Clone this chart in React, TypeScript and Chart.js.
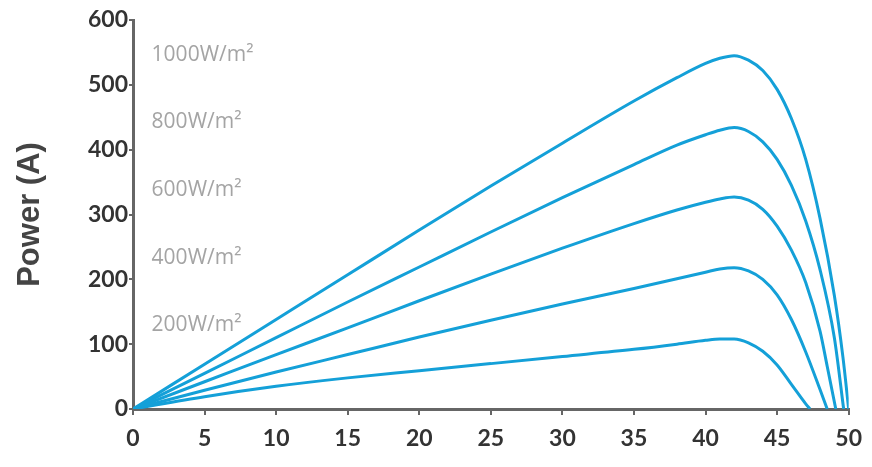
import React, { useEffect, useRef } from "react";
import { Chart, registerables } from "chart.js";

Chart.register(...registerables);

// Voltage (x) and power (y) for each irradiance curve
const v1000 = [0, 5, 10, 15, 20, 25, 30, 35, 38, 40, 41, 42, 43, 44, 45, 46, 47, 48, 49, 49.6, 50];
const p1000 = [0, 69, 138, 207, 276, 344, 410, 475, 511, 533, 541, 545, 538, 522, 493, 448, 385, 294, 175, 80, 0];

const v800 = [0, 5, 10, 15, 20, 25, 30, 35, 38, 40, 41, 42, 43, 44, 45, 46, 47, 48, 49, 49.65];
const p800 = [0, 55, 110, 165, 219, 273, 326, 377, 407, 423, 430, 434, 428, 412, 385, 345, 290, 215, 110, 0];

const v600 = [0, 5, 10, 15, 20, 25, 30, 35, 38, 40, 41, 42, 43, 44, 45, 46, 47, 48, 48.5, 49.1];
const p600 = [0, 42, 84, 125, 167, 208, 248, 286, 307, 319, 324, 327, 322, 308, 282, 245, 195, 120, 66, 0];

const v400 = [0, 5, 10, 15, 20, 25, 30, 35, 38, 40, 41, 42, 43, 44, 45, 46, 47, 48, 48.5];
const p400 = [0, 29, 57, 84, 111, 137, 162, 186, 201, 211, 216, 218, 213, 200, 176, 138, 88, 30, 0];

const v200 = [0, 5, 10, 15, 20, 25, 30, 35, 38, 40, 41, 42, 43, 44, 45, 46, 47, 47.3];
const p200 = [0, 19, 35, 48, 59, 70, 81, 92, 100, 106, 108, 108, 102, 89, 68, 38, 8, 0];

const curveLabels = ["1000W/m²", "800W/m²", "600W/m²", "400W/m²", "200W/m²"];
const curveLabelX = [1.3, 1.3, 1.3, 1.3, 1.3];
const curveLabelY = [546, 443, 338, 233, 130];

const xTicks = [0, 5, 10, 15, 20, 25, 30, 35, 40, 45, 50];
const yTicks = [0, 100, 200, 300, 400, 500, 600];

const series = [
  [v1000, p1000],
  [v800, p800],
  [v600, p600],
  [v400, p400],
  [v200, p200],
];

const LINE = "#14a0d8";

const labelPlugin = {
  id: "curveLabels",
  afterDatasetsDraw(chart: any) {
    const { ctx, scales } = chart;
    ctx.save();
    ctx.font = "21px 'Open Sans'";
    ctx.fillStyle = "#a4a4a4";
    ctx.textAlign = "left";
    ctx.textBaseline = "middle";
    curveLabels.forEach((t, i) => {
      ctx.fillText(t, scales.x.getPixelForValue(curveLabelX[i]), scales.y.getPixelForValue(curveLabelY[i]));
    });
    ctx.restore();
  },
};

export default function App() {
  const ref = useRef<HTMLCanvasElement>(null);
  useEffect(() => {
    if (!ref.current) return;
    const chart = new Chart(ref.current, {
      type: "line",
      data: {
        datasets: series.map(([xs, ys], i) => ({
          label: curveLabels[i],
          data: xs.map((x, j) => ({ x, y: ys[j] })),
          borderColor: LINE,
          borderWidth: 3,
          pointRadius: 0,
          fill: false,
          cubicInterpolationMode: "monotone" as const,
        })),
      },
      options: {
        animation: false,
        responsive: false,
        layout: { padding: { top: 20, right: 21, left: 0, bottom: 0 } },
        plugins: { legend: { display: false }, tooltip: { enabled: false } },
        scales: {
          x: {
            type: "linear",
            min: 0,
            max: 50,
            afterBuildTicks: (s: any) => {
              s.ticks = xTicks.map((v) => ({ value: v }));
            },
            afterFit: (s: any) => {
              s.height = 58;
            },
            border: { display: true, color: "#666", width: 3 },
            grid: { display: true, drawOnChartArea: false, drawTicks: true, tickLength: 6, color: "#666", lineWidth: 2 },
            ticks: {
              padding: 10,
              color: "#333",
              font: { family: "Lato", weight: "bold", size: 23 },
            },
          },
          y: {
            type: "linear",
            min: 0,
            max: 600,
            afterBuildTicks: (s: any) => {
              s.ticks = yTicks.map((v) => ({ value: v }));
            },
            afterFit: (s: any) => {
              s.width = 133;
            },
            border: { display: true, color: "#666", width: 3 },
            grid: { display: true, drawOnChartArea: false, drawTicks: true, tickLength: 4, color: "#666", lineWidth: 2 },
            ticks: {
              padding: 1,
              color: "#333",
              font: { family: "Lato", weight: "bold", size: 23 },
            },
            title: {
              display: true,
              text: "Power (A)",
              color: "#444",
              padding: { top: 12, bottom: 0 },
              font: { family: "Liberation Sans", weight: "bold", size: 31 },
            },
          },
        },
      },
      plugins: [labelPlugin],
    });
    return () => chart.destroy();
  }, []);
  return (
    <div style={{ position: "absolute", left: 0, top: 0, width: 872, height: 467 }}>
      <canvas ref={ref} width={872} height={467} style={{ display: "block" }} />
    </div>
  );
}
